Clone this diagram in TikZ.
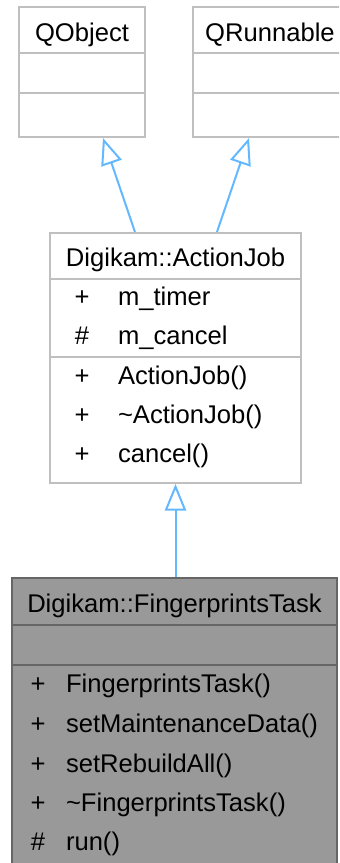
\documentclass[tikz,border=0pt]{standalone}
\usepackage{fontspec}
\setmainfont{Liberation Sans}
\usetikzlibrary{arrows.meta}
\definecolor{edgeblue}{HTML}{63B8FF}
\definecolor{boxgray}{HTML}{BFBFBF}
\definecolor{curfill}{HTML}{999999}
\definecolor{curdraw}{HTML}{666666}

\begin{document}
\begin{tikzpicture}[x=0.75pt, y=-0.75pt, line width=1.5pt,
    font=\fontsize{19.2}{23}\selectfont,
    classbox/.style={draw=boxgray, fill=white, inner sep=0pt},
    curbox/.style={draw=curdraw, fill=curfill, inner sep=0pt},
    member/.style={inner sep=0pt},
    inherit/.style={draw=edgeblue, -{Triangle[open, length=20pt, width=16pt]}}]
            \useasboundingbox (0,0) rectangle (339,863);
            \clip (0,0) rectangle (339,863);

            % base classes
            \node[classbox, minimum width=94.5pt, minimum height=97.5pt] (qobject) at (82,72) {};
            \node[classbox, minimum width=115.5pt, minimum height=97.5pt] (qrunnable) at (270,72) {};
            \draw[boxgray] (19,53) -- (145,53); \draw[boxgray] (19,93) -- (145,93);
            \draw[boxgray] (193,53) -- (347,53); \draw[boxgray] (193,93) -- (347,93);
            \node[member, anchor=base] (qobjname) at (82,42) {QObject};
            \node[member, anchor=base] (qrunname) at (270,42) {QRunnable};

            % Digikam::ActionJob
            \node[classbox, minimum width=188.25pt, minimum height=187.5pt] (actionjob) at (175.5,358) {};
            \draw[boxgray] (50,279) -- (301,279); \draw[boxgray] (50,357) -- (301,357);
            \node[member, anchor=base] (ajname) at (175.5,266) {Digikam::ActionJob};
            \node[member, anchor=base] (ajv1) at (82,305) {+};
            \node[member, anchor=base west] (ajm1) at (117,305) {m\_timer};
            \node[member, anchor=base] (ajv2) at (82,344) {\#};
            \node[member, anchor=base west] (ajm2) at (117,344) {m\_cancel};
            \node[member, anchor=base] (ajv3) at (82,384) {+};
            \node[member, anchor=base west] (ajm3) at (117,384) {ActionJob()};
            \node[member, anchor=base] (ajv4) at (82,423) {+};
            \node[member, anchor=base west] (ajm4) at (117,423) {\textasciitilde ActionJob()};
            \node[member, anchor=base] (ajv5) at (82,462) {+};
            \node[member, anchor=base west] (ajm5) at (117,462) {cancel()};

            % Digikam::FingerprintsTask
            \node[curbox, minimum width=243.75pt, minimum height=226.5pt] (fptask) at (174.5,729) {};
            \draw[curdraw] (12,625) -- (337,625); \draw[curdraw] (12,665) -- (337,665);
            \node[member, anchor=base] (fpname) at (174.5,612) {Digikam::FingerprintsTask};
            \node[member, anchor=base] (fpv1) at (38,692) {+};
            \node[member, anchor=base west] (fpm1) at (65,692) {FingerprintsTask()};
            \node[member, anchor=base] (fpv2) at (38,732) {+};
            \node[member, anchor=base west] (fpm2) at (65,732) {setMaintenanceData()};
            \node[member, anchor=base] (fpv3) at (38,772) {+};
            \node[member, anchor=base west] (fpm3) at (65,772) {setRebuildAll()};
            \node[member, anchor=base] (fpv4) at (38,811) {+};
            \node[member, anchor=base west] (fpm4) at (65,811) {\textasciitilde FingerprintsTask()};
            \node[member, anchor=base] (fpv5) at (38,850) {\#};
            \node[member, anchor=base west] (fpm5) at (65,850) {run()};

            \draw[inherit] ([xshift=-30.4pt]actionjob.north) -- ([xshift=15.75pt]qobject.south);
            \draw[inherit] ([xshift=31.1pt]actionjob.north) -- ([xshift=-15.75pt]qrunnable.south);
            \draw[inherit] ([xshift=0.75pt]fptask.north) -- (actionjob.south);
        \end{tikzpicture}
\end{document}
